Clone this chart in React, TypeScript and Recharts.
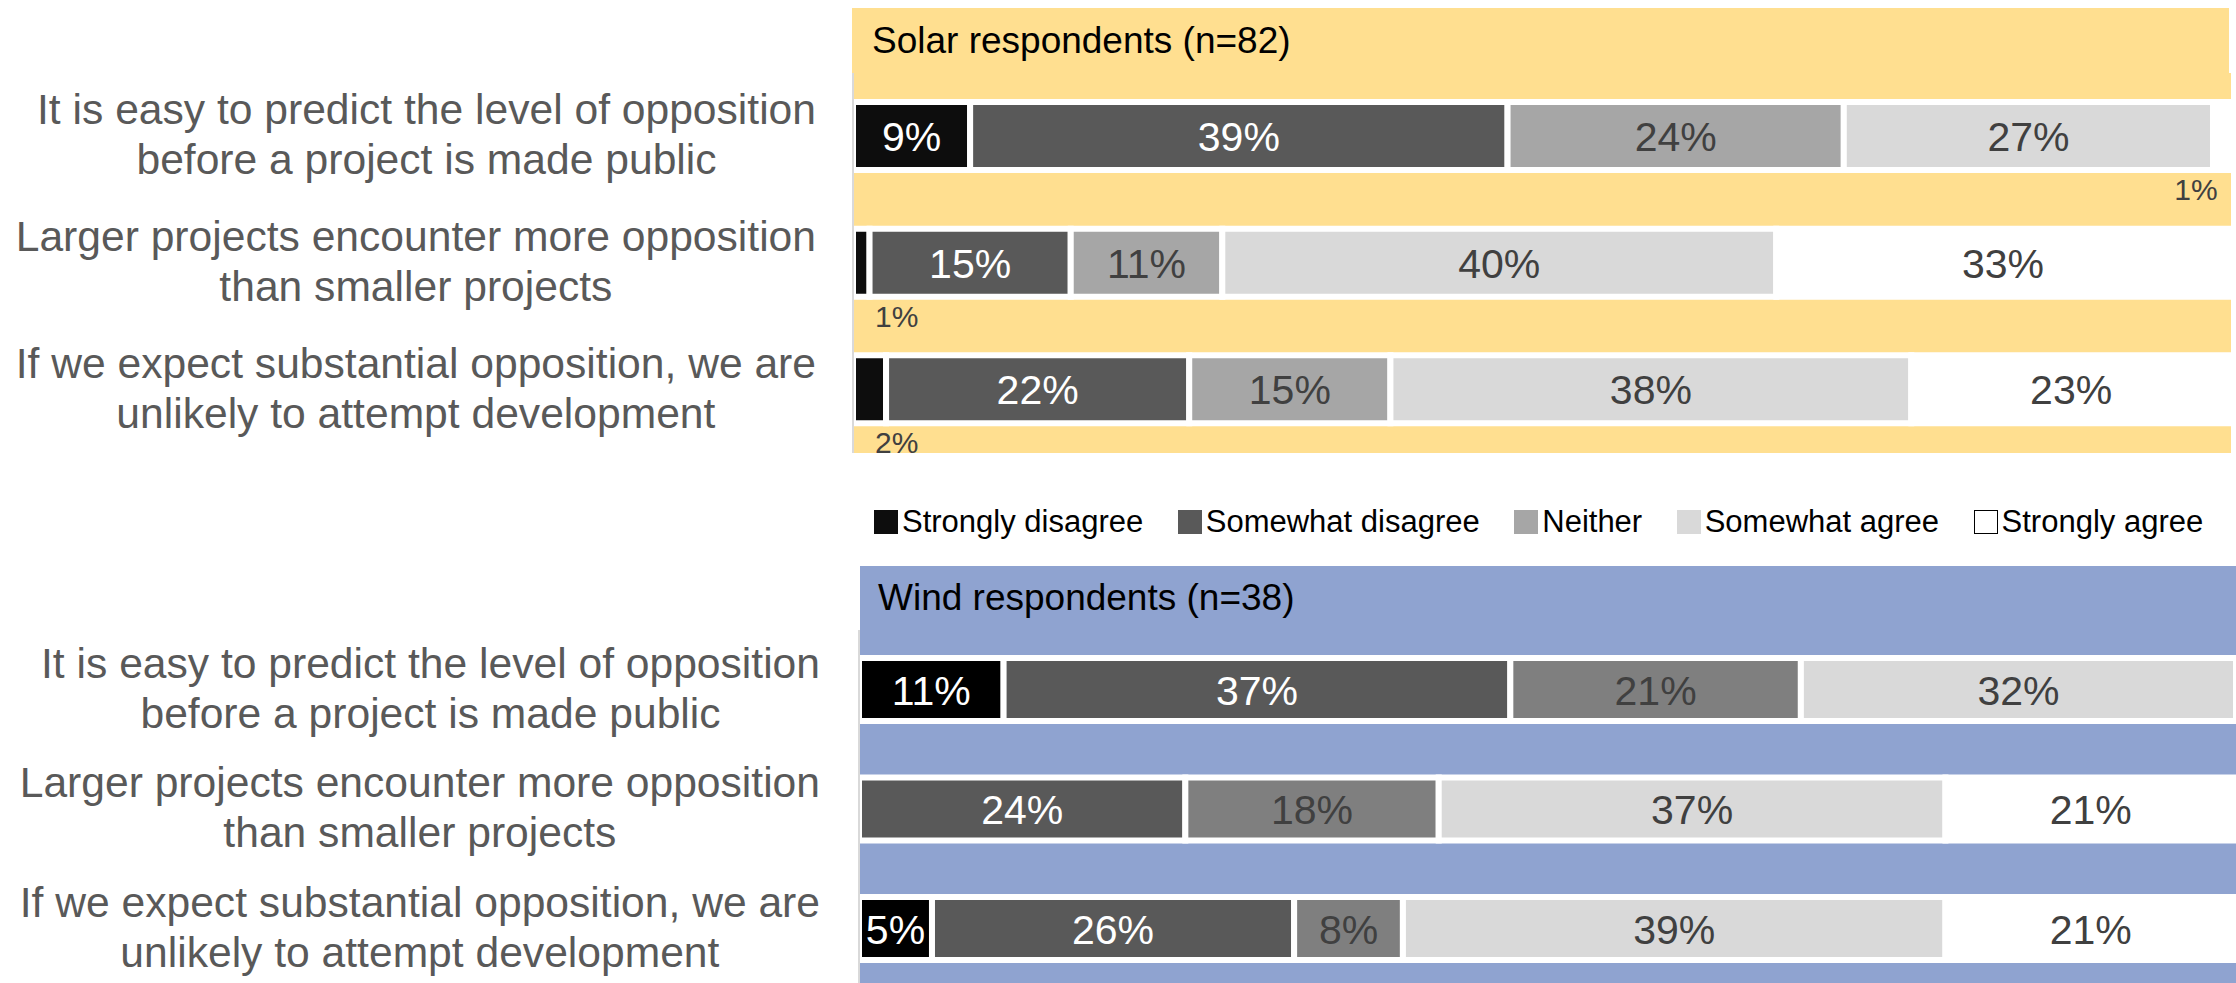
import React from 'react';
import { BarChart, Bar, XAxis, YAxis, CartesianGrid, LabelList } from 'recharts';

const FONT = '"Liberation Sans", Arial, sans-serif';

// question labels (two lines each)
const categories = [
  'It is easy to predict the level of opposition\nbefore a project is made public',
  'Larger projects encounter more opposition\nthan smaller projects',
  'If we expect substantial opposition, we are\nunlikely to attempt development',
];

const levels = ['Strongly disagree', 'Somewhat disagree', 'Neither', 'Somewhat agree', 'Strongly agree'];

// solar respondents (n=82), % of respondents
const solarStronglyDisagree = [8.5, 1.2, 2.4];
const solarSomewhatDisagree = [39.0, 14.6, 22.0];
const solarNeither = [24.4, 11.0, 14.6];
const solarSomewhatAgree = [26.8, 40.2, 37.8];
const solarStronglyAgree = [1.2, 32.9, 23.2];

// wind respondents (n=38)
const windStronglyDisagree = [10.5, 0, 5.3];
const windSomewhatDisagree = [36.8, 23.7, 26.3];
const windNeither = [21.1, 18.4, 7.9];
const windSomewhatAgree = [31.6, 36.8, 39.4];
const windStronglyAgree = [0, 21.1, 21.1];

const keys = ['sd', 'swd', 'nei', 'swa', 'sa'];
const labelColors = ['#ffffff', '#ffffff', '#404040', '#404040', '#404040'];
const solarColors = ['#0d0d0d', '#595959', '#a6a6a6', '#d9d9d9', '#ffffff'];
const windColors = ['#000000', '#595959', '#7f7f7f', '#d9d9d9', '#ffffff'];
const legendColors = ['#0d0d0d', '#595959', '#a6a6a6', '#d9d9d9', '#ffffff'];

const buildRows = (cols: number[][]) =>
  categories.map((label, i) => {
    const row: any = { label };
    keys.forEach((k, j) => { row[k] = cols[j][i]; });
    return row;
  });

const solarRows = buildRows([solarStronglyDisagree, solarSomewhatDisagree, solarNeither, solarSomewhatAgree, solarStronglyAgree]);
const windRows = buildRows([windStronglyDisagree, windSomewhatDisagree, windNeither, windSomewhatAgree, windStronglyAgree]);

const TICK_FONT = 42.6;

let ctx: CanvasRenderingContext2D | null = null;
const textWidth = (s: string, font: string) => {
  if (!ctx) ctx = document.createElement('canvas').getContext('2d');
  if (!ctx) return s.length * 20;
  ctx.font = font;
  return ctx.measureText(s).width;
};

// right-aligned block, lines centred on each other (like Excel)
const CategoryTick = (props: any) => {
  const { x, y, payload } = props;
  const lines = String(payload.value).split('\n');
  const w = Math.max(...lines.map(l => textWidth(l, `${TICK_FONT}px "Liberation Sans"`)));
  const cx = x - w / 2;
  return (
    <text x={cx} y={y} textAnchor="middle" fontSize={TICK_FONT} fill="#595959" fontFamily={FONT}>
      {lines.map((l, i) => (
        <tspan key={i} x={cx} y={y - 12 + i * 50}>{l}</tspan>
      ))}
    </text>
  );
};

const makeLabel = (color: string, pos: number) => (props: any) => {
  const { x, y, width, height, value } = props;
  const v = Array.isArray(value) ? value[1] - value[0] : Number(value);
  if (!v) return null;
  const txt = `${Math.round(v)}%`;
  if (v < 3) {
    // too thin: label sits in the band under the bar
    const first = pos === 0;
    return (
      <text x={first ? x + 22 : x + width - 12} y={y + height + 30} textAnchor={first ? 'start' : 'end'}
        fontSize={30} fill="#404040" fontFamily={FONT}>{txt}</text>
    );
  }
  return (
    <text x={x + width / 2} y={y + height / 2 + 15} textAnchor="middle" fontSize={41} fill={color} fontFamily={FONT}>
      {txt}
    </text>
  );
};

interface PanelProps {
  rows: any[];
  colors: string[];
  bg: string;
  width: number;
  height: number;
  margin: { top: number; right: number; bottom: number; left: number };
  axisWidth: number;
  tickMargin: number;
  barSize: number;
}

const Panel: React.FC<PanelProps> = ({ rows, colors, bg, width, height, margin, axisWidth, tickMargin, barSize }) => (
  <BarChart width={width} height={height} data={rows} layout="vertical" margin={margin}>
    <CartesianGrid fill={bg} horizontal={false} vertical={false} stroke="none" />
    <XAxis type="number" domain={[0, 100]} hide />
    {keys.map((k, j) => (
      <Bar key={k} dataKey={k} name={levels[j]} stackId="a" fill={colors[j]} stroke="#ffffff" strokeWidth={6}
        barSize={barSize} isAnimationActive={false}>
        <LabelList dataKey={k} content={makeLabel(labelColors[j], j)} />
      </Bar>
    ))}
    <YAxis type="category" dataKey="label" width={axisWidth} interval={0} tickLine={false} tickSize={0}
      tickMargin={tickMargin} axisLine={{ stroke: '#d9d9d9', strokeWidth: 2 }} tick={<CategoryTick />} />
  </BarChart>
);

const Header: React.FC<{ text: string; bg: string; left: number; top: number; width: number; height: number; pad: number }> =
  ({ text, bg, left, top, width, height, pad }) => (
    <div style={{ position: 'absolute', left, top, width, height, background: bg, lineHeight: `${height}px`,
      fontSize: 37, color: '#000', paddingLeft: pad, boxSizing: 'border-box', whiteSpace: 'nowrap' }}>
      {text}
    </div>
  );

export default function App() {
  return (
    <div style={{ position: 'absolute', left: 0, top: 0, width: 2236, height: 983, overflow: 'hidden',
      background: '#ffffff', fontFamily: FONT }}>
      <div style={{ position: 'absolute', left: 0, top: 0 }}>
        <Panel rows={solarRows} colors={solarColors} bg="#FFDF90" width={2236} height={470}
          margin={{ top: 73, right: 5, bottom: 17, left: 0 }} axisWidth={853} tickMargin={37} barSize={68} />
      </div>
      <Header text="Solar respondents (n=82)" bg="#FFDF90" left={852} top={8} width={1377} height={65} pad={20} />

      <div style={{ position: 'absolute', left: 874, top: 504, height: 36, display: 'flex', alignItems: 'center', gap: 34.5 }}>
        {levels.map((l, i) => (
          <div key={l} style={{ display: 'flex', alignItems: 'center' }}>
            <div style={{ width: 24, height: 24, background: legendColors[i], boxSizing: 'border-box',
              border: i === 4 ? '1.5px solid #000' : 'none' }} />
            <span style={{ marginLeft: 4, fontSize: 31, lineHeight: '36px', color: '#000', whiteSpace: 'nowrap' }}>{l}</span>
          </div>
        ))}
      </div>

      <div style={{ position: 'absolute', left: 0, top: 560 }}>
        <Panel rows={windRows} colors={windColors} bg="#8FA3D0" width={2236} height={440}
          margin={{ top: 70, right: 0, bottom: 11.5, left: 0 }} axisWidth={859} tickMargin={39} barSize={63} />
      </div>
      <Header text="Wind respondents (n=38)" bg="#8FA3D0" left={860} top={566} width={1376} height={64} pad={18} />
    </div>
  );
}
